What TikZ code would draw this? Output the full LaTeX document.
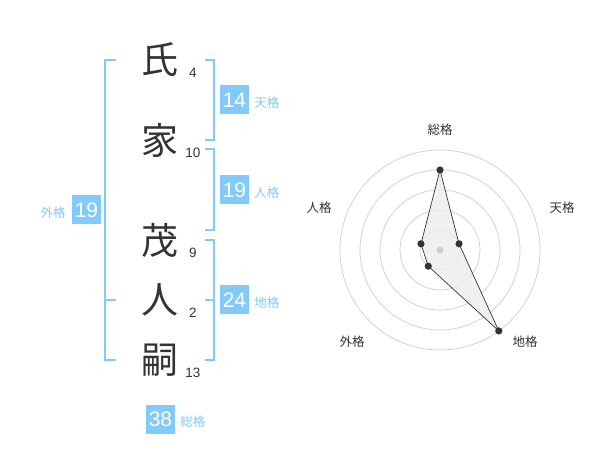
\documentclass[tikz,border=0pt]{standalone}
\usepackage{fontspec}
\setmainfont{Liberation Sans}
\newfontfamily\jpfont{Noto Sans CJK JP}
\usetikzlibrary{positioning}
\definecolor{kakublue}{RGB}{130,202,250}
\definecolor{inkgray}{RGB}{51,51,51}
\definecolor{ringgray}{RGB}{206,206,206}

\tikzset{
  kanji/.style={font=\jpfont\fontsize{37}{37}\selectfont, text=inkgray, inner sep=0pt},
  strokes/.style={font=\fontsize{13.5}{13.5}\selectfont, text=inkgray, inner sep=0pt},
  kakubox/.style={fill=kakublue, text=white, minimum width=29pt, minimum height=29pt, inner sep=0pt, font=\fontsize{21}{21}\selectfont},
  kakuname/.style={font=\jpfont\fontsize{12.5}{12.5}\selectfont, text=kakublue, inner sep=0pt},
  brace/.style={draw=kakublue, line width=2pt},
  axisname/.style={font=\jpfont\fontsize{12.5}{12.5}\selectfont, text=inkgray, inner sep=0pt},
}

\begin{document}
\begin{tikzpicture}[x=1pt,y=-1pt]
	\useasboundingbox (0,0) rectangle (600,470);
	\fill[white] (0,0) rectangle (600,470);

	% name characters and stroke counts
	\node[kanji](c1) at (160,60){氏};
	\node[kanji](c2) at (160,140){家};
	\node[kanji](c3) at (160,240){茂};
	\node[kanji](c4) at (160,300){人};
	\node[kanji](c5) at (160,360){嗣};
	\node[strokes](s1) at (193,73){4};
	\node[strokes](s2) at (193,153){10};
	\node[strokes](s3) at (193,253){9};
	\node[strokes](s4) at (193,313){2};
	\node[strokes](s5) at (193,373){13};

	% brackets
	\draw[brace] (205,60) -- (214,60) -- (214,140) -- (205,140);
	\draw[brace] (205,149) -- (214,149) -- (214,230) -- (205,230);
	\draw[brace] (205,240) -- (214,240) -- (214,360) -- (205,360);
	\draw[brace] (205,300) -- (214,300);
	\draw[brace] (116,60) -- (105,60) -- (105,360) -- (116,360);
	\draw[brace] (105,300) -- (116,300);

	% scores
	\node[kakubox](ten) at (234.5,100){14};
	\node[kakuname,right = 5 of ten,yshift=-3pt](tenL){天格};
	\node[kakubox](jin) at (234.5,190){19};
	\node[kakuname,right = 5 of jin,yshift=-3pt](jinL){人格};
	\node[kakubox](chi) at (234.5,300){24};
	\node[kakuname,right = 5 of chi,yshift=-3pt](chiL){地格};
	\node[kakubox](gai) at (86.5,210){19};
	\node[kakuname,left = 6 of gai,yshift=-3pt](gaiL){外格};
	\node[kakubox](sou) at (160.5,419){38};
	\node[kakuname,right = 5 of sou,yshift=-3pt](souL){総格};

	% radar chart
	\begin{scope}[shift={(440,250)},yscale=-1]
		\foreach \r in {20,40,...,100}
			\draw[ringgray,line width=0.7pt] (0,0) circle (\r pt);
		\coordinate (psou) at (90:80);
		\coordinate (pten) at (18:20);
		\coordinate (pchi) at (-54:100);
		\coordinate (pgai) at (-126:20);
		\coordinate (pjin) at (162:20);
		\filldraw[fill=black!7,fill opacity=0.8,draw=inkgray,line width=0.7pt]
			(psou) -- (pten) -- (pchi) -- (pgai) -- (pjin) -- cycle;
		\fill[ringgray] (0,0) circle (3.5pt);
		\foreach \p in {psou,pten,pchi,pgai,pjin}
			\fill[inkgray] (\p) circle (3.6pt);
	\end{scope}
	\node[axisname](aSou) at (440,130){総格};
	\node[axisname](aTen) at (562,208){天格};
	\node[axisname](aJin) at (319,208){人格};
	\node[axisname](aGai) at (352,342){外格};
	\node[axisname](aChi) at (525,342){地格};
\end{tikzpicture}
\end{document}
